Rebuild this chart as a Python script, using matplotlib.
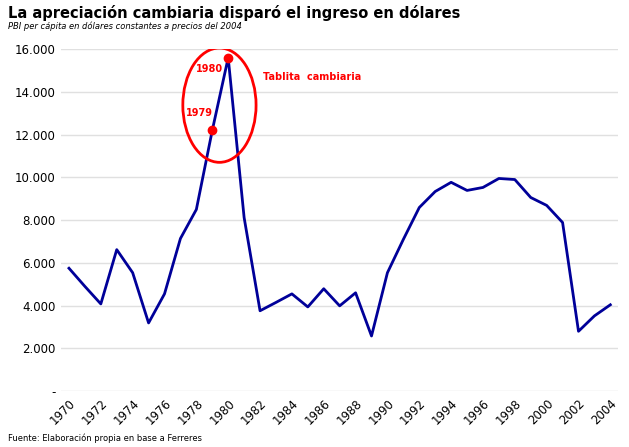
import matplotlib.pyplot as plt
from matplotlib.patches import Ellipse

years = list(range(1970, 2005))
pbi = [5750, 4900, 4080, 6620, 5540, 3190, 4550, 7140, 8500, 12200,
       15600, 8120, 3760, 4150, 4550, 3940, 4790, 3990, 4600, 2580,
       5540, 7100, 8590, 9340, 9770, 9390, 9530, 9950, 9900, 9060,
       8690, 7890, 2800, 3520, 4040]
highlight_years = [1979, 1980]
yticks = list(range(0, 16001, 2000))
ytick_labels = ["-"] + [f"{v:,}".replace(",", ".") for v in yticks[1:]]

fig = plt.figure(figsize=(6.29, 4.47), dpi=100)
ax = fig.add_axes([0.097, 0.125, 0.886, 0.765])

ax.plot(years, pbi, color="#000099", lw=2.0, zorder=3)

# puntos de la tablita
hx = highlight_years
hy = [pbi[years.index(y)] for y in hx]
ax.scatter(hx, hy, color="red", s=36, zorder=4)
ax.text(1978.2, 13000, "1979", color="red", fontsize=7, fontweight="bold", ha="center", va="center")
ax.text(1978.85, 15070, "1980", color="red", fontsize=7, fontweight="bold", ha="center", va="center")
ax.add_patch(Ellipse((1979.45, 13380), 4.6, 5350, fill=False, edgecolor="red", lw=2.0, zorder=5))
ax.text(1982.2, 14700, "Tablita  cambiaria", color="red", fontsize=7, fontweight="bold", ha="left", va="center")

ax.set_xlim(1969.5, 2004.5)
ax.set_ylim(0, 16000)
ax.set_yticks(yticks)
ax.set_yticklabels(ytick_labels, fontsize=8.5)
ax.set_xticks(years[::2])
ax.set_xticklabels([str(y) for y in years[::2]], rotation=45, ha="right",
                   rotation_mode="anchor", fontsize=8.5)
ax.tick_params(length=0, pad=4)
ax.grid(axis="y", color="#e0e0e0", lw=1)
ax.set_axisbelow(True)
for s in ax.spines.values():
    s.set_visible(False)

fig.text(0.013, 0.972, "La apreciación cambiaria disparó el ingreso en dólares",
         fontsize=10.5, fontweight="bold", va="center")
fig.text(0.013, 0.942, "PBI per cápita en dólares constantes a precios del 2004",
         fontsize=6, style="italic", va="center")
fig.text(0.013, 0.02, "Fuente: Elaboración propia en base a Ferreres", fontsize=6, va="center")

fig.savefig("out.png", dpi=100)
